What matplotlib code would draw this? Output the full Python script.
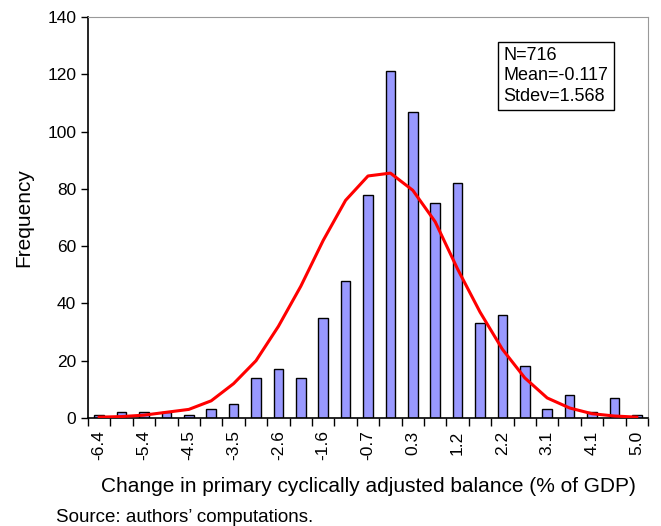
import matplotlib
matplotlib.use("Agg")
import matplotlib.pyplot as plt
import numpy as np

plt.rcParams["font.family"] = ["Liberation Sans", "DejaVu Sans"]

# category midpoints (% of GDP), bar counts and fitted normal curve
bins = [-6.4, -5.9, -5.4, -4.9, -4.5, -4.0, -3.5, -3.0, -2.6, -2.1, -1.6, -1.2,
        -0.7, -0.2, 0.3, 0.7, 1.2, 1.7, 2.2, 2.6, 3.1, 3.6, 4.1, 4.5, 5.0]
counts = [1, 2, 2, 2, 1, 3, 5, 14, 17, 14, 35, 48,
          78, 121, 107, 75, 82, 33, 36, 18, 3, 8, 2, 7, 1]
normal_fit = [0.3, 0.5, 1.0, 2.0, 3.0, 6.0, 12.0, 20.0, 32.0, 46.0, 62.0, 76.0,
              84.5, 85.5, 79.5, 68.5, 52.0, 37.0, 24.0, 14.0, 7.0, 3.5, 1.5, 0.7, 0.3]
stats_text = "N=716\nMean=-0.117\nStdev=1.568"

x = np.arange(len(bins))

fig = plt.figure(figsize=(6.61, 5.26), dpi=100)
ax = fig.add_axes([88 / 661, 108 / 526, 560 / 661, 401 / 526])

ax.bar(x, counts, width=0.42, color="#9999ff", edgecolor="black", linewidth=1.0, zorder=2)
ax.plot(x, normal_fit, color="#ff0000", linewidth=2.2, zorder=3)

ax.set_xlim(-0.5, len(bins) - 0.5)
ax.set_ylim(0, 140)
ax.set_yticks(range(0, 141, 20))
ax.tick_params(axis="y", labelsize=12.5, length=5, width=1)

# tick marks at category boundaries, labels on every other category
ax.set_xticks(np.arange(-0.5, len(bins), 1.0))
ax.set_xticklabels([])
ax.tick_params(axis="x", which="major", length=6, width=1)
ax.set_xticks(x[::2], minor=True)
ax.set_xticklabels([f"{b:.1f}" for b in bins[::2]], minor=True, rotation=90, fontsize=12.5)
ax.tick_params(axis="x", which="minor", length=0, pad=9)

for side in ["top", "right"]:
    ax.spines[side].set_color("#999999")
    ax.spines[side].set_linewidth(0.8)
for side in ["left", "bottom"]:
    ax.spines[side].set_linewidth(1.2)

ax.set_ylabel("Frequency", fontsize=15, labelpad=10)
ax.set_xlabel("Change in primary cyclically adjusted balance (% of GDP)", fontsize=15, labelpad=12)

ax.text(0.742, 0.925, stats_text, transform=ax.transAxes, fontsize=13, va="top", ha="left",
        linespacing=1.25,
        bbox=dict(boxstyle="square,pad=0.3", facecolor="white", edgecolor="black", linewidth=1))

fig.text(56 / 661, 1 - 517 / 526, "Source: authors\u2019 computations.", fontsize=13.5, va="center")

fig.savefig("out.png", dpi=100)
